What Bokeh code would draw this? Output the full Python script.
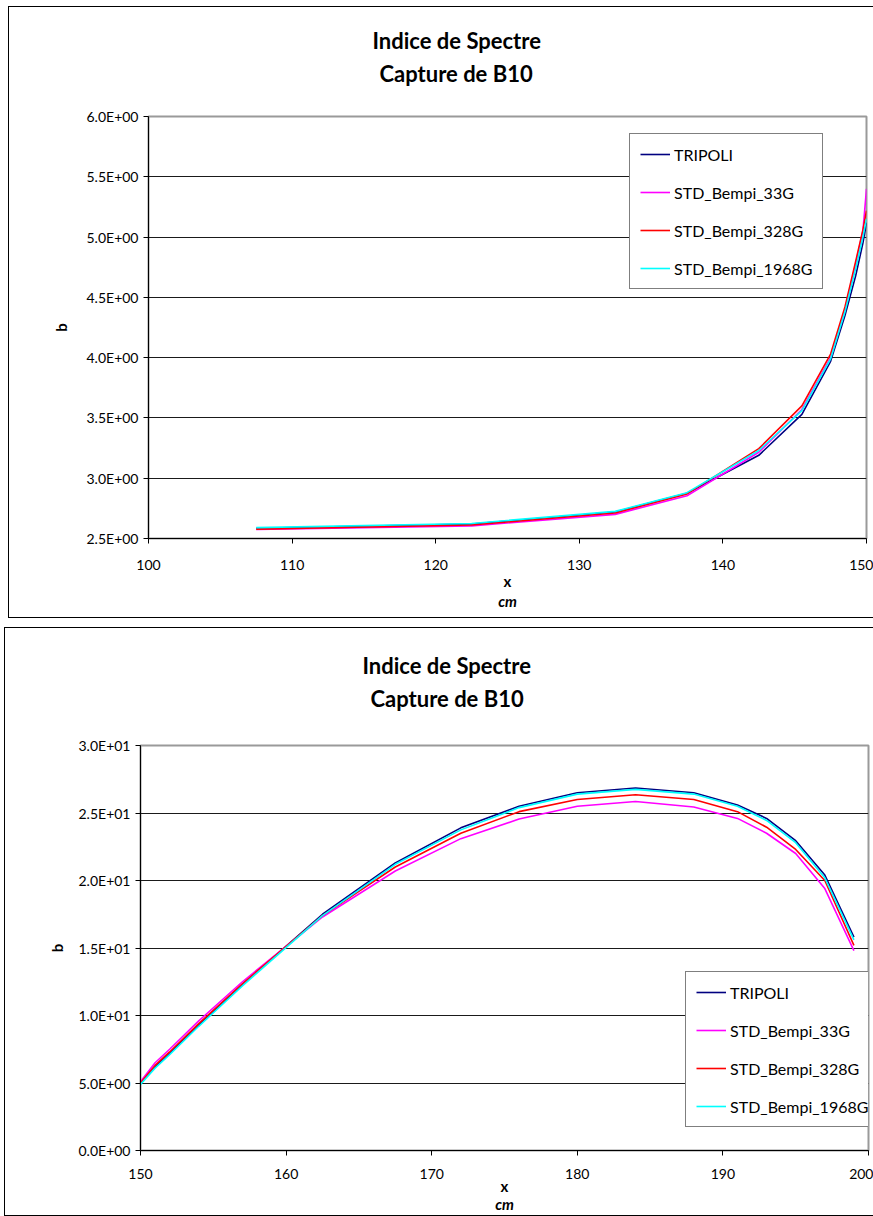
from bokeh.plotting import figure
from bokeh.models import Legend, LegendItem, Title, LinearAxis, FixedTicker, Range1d
from bokeh.layouts import column
from bokeh.embed import file_html
from bokeh.resources import INLINE

# ---------------- data ----------------
series_names = ["TRIPOLI", "STD_Bempi_33G", "STD_Bempi_328G", "STD_Bempi_1968G"]
series_colors = ["#000080", "#FF00FF", "#FF0000", "#00FFFF"]
title_lines = ["Indice de Spectre", "Capture de B10"]
x_label = "x"
x_unit = "cm"
y_label = "b"

# chart 1
c1_x = [107.5, 122.5, 132.5, 137.5, 142.5, 145.5, 147.5, 148.5, 149.25, 149.75, 150.0]
c1_tripoli = [2.585, 2.620, 2.720, 2.875, 3.190, 3.530, 3.970, 4.350, 4.680, 4.950, 5.120]
c1_33g = [2.575, 2.605, 2.700, 2.855, 3.215, 3.570, 4.000, 4.400, 4.780, 5.050, 5.400]
c1_328g = [2.578, 2.612, 2.712, 2.870, 3.245, 3.600, 4.030, 4.420, 4.800, 5.060, 5.220]
c1_1968g = [2.590, 2.625, 2.725, 2.880, 3.230, 3.560, 3.990, 4.380, 4.740, 5.000, 5.150]
c1_xticks = [100, 110, 120, 130, 140, 150]
c1_yticks = [2.5, 3.0, 3.5, 4.0, 4.5, 5.0, 5.5, 6.0]
c1_ytick_labels = ["2.5E+00", "3.0E+00", "3.5E+00", "4.0E+00", "4.5E+00", "5.0E+00", "5.5E+00", "6.0E+00"]

# chart 2
c2_x = [150, 151, 152, 154, 157, 162.5, 167.5, 172, 176, 180, 184, 188, 191, 193, 195, 197, 199]
c2_tripoli = [5.0, 6.2, 7.2, 9.3, 12.3, 17.5, 21.3, 23.9, 25.5, 26.5, 26.85, 26.5, 25.6, 24.6, 22.95, 20.4, 15.8]
c2_33g = [5.1, 6.5, 7.5, 9.6, 12.5, 17.3, 20.7, 23.1, 24.55, 25.5, 25.85, 25.45, 24.6, 23.5, 22.0, 19.4, 14.8]
c2_328g = [5.0, 6.3, 7.3, 9.4, 12.35, 17.4, 21.0, 23.5, 25.1, 26.0, 26.35, 26.0, 25.1, 23.95, 22.3, 20.0, 15.2]
c2_1968g = [4.9, 6.1, 7.1, 9.2, 12.2, 17.4, 21.2, 23.75, 25.4, 26.4, 26.75, 26.4, 25.5, 24.45, 22.8, 20.2, 15.6]
c2_xticks = [150, 160, 170, 180, 190, 200]
c2_yticks = [0, 5, 10, 15, 20, 25, 30]
c2_ytick_labels = ["0.0E+00", "5.0E+00", "1.0E+01", "1.5E+01", "2.0E+01", "2.5E+01", "3.0E+01"]

FONT = "Lato"


def make_chart(xs, ys_list, xticks, yticks, ytick_labels, width, height, margin,
               b_left, b_right, b_top, b_bottom, title_offsets, title_gap, legend_xy,
               ylab_standoff, xlab_standoff, unit_standoff, tick_standoff):
    p = figure(width=width, height=height, output_backend="svg", toolbar_location=None,
               x_range=Range1d(xticks[0], xticks[-1]), y_range=Range1d(yticks[0], yticks[-1]),
               min_border_left=b_left, min_border_right=b_right,
               min_border_top=b_top, min_border_bottom=b_bottom,
               background_fill_color="white", border_fill_color="white")
    p.frame_align = False
    p.margin = margin
    p.styles = {"outline": "1px solid black"}
    p.outline_line_color = "#9a9a9a"
    p.outline_line_width = 2

    p.xgrid.visible = False
    p.ygrid.grid_line_color = "#1a1a1a"
    p.ygrid.grid_line_width = 1
    p.ygrid.ticker = FixedTicker(ticks=yticks)

    xa = p.xaxis[0]
    xa.ticker = FixedTicker(ticks=xticks)
    ya = p.yaxis[0]
    ya.ticker = FixedTicker(ticks=yticks)
    ya.major_label_overrides = {t: l for t, l in zip(yticks, ytick_labels)}
    for ax in (xa, ya):
        ax.axis_line_color = "black"
        ax.axis_line_width = 1
        ax.major_tick_line_color = "black"
        ax.major_tick_out = 5
        ax.major_tick_in = 0
        ax.minor_tick_line_color = None
        ax.major_label_text_font = FONT
        ax.major_label_text_font_size = "14px"
        ax.major_label_text_color = "black"
        ax.axis_label_text_font = FONT
        ax.axis_label_text_font_size = "15px"
        ax.axis_label_text_font_style = "bold"
        ax.axis_label_text_color = "black"
    xa.major_label_standoff = tick_standoff
    xa.axis_label = x_label
    xa.axis_label_standoff = xlab_standoff
    ya.axis_label = y_label
    ya.axis_label_standoff = ylab_standoff
    ya.major_label_standoff = 5

    unit_axis = LinearAxis(ticker=FixedTicker(ticks=[]), axis_label=x_unit,
                           axis_line_color=None, major_tick_line_color=None,
                           minor_tick_line_color=None, major_tick_out=0, major_tick_in=0,
                           major_label_standoff=0, axis_label_standoff=unit_standoff,
                           axis_label_text_font=FONT, axis_label_text_font_size="15px",
                           axis_label_text_font_style="bold italic",
                           axis_label_text_color="black")
    p.add_layout(unit_axis, "below")

    items = []
    for name, color, ys in zip(series_names, series_colors, ys_list):
        r = p.line(xs, ys, line_color=color, line_width=1.6)
        items.append(LegendItem(label=name, renderers=[r]))

    legend = Legend(items=items, location=legend_xy,
                    border_line_color="black", border_line_width=1,
                    background_fill_color="white", background_fill_alpha=1.0,
                    label_text_font=FONT, label_text_font_size="16px",
                    label_text_color="black",
                    glyph_width=30, glyph_height=20, label_height=20,
                    spacing=18, padding=10, label_standoff=4, margin=0)
    p.add_layout(legend)

    # spacer between plot area and title (panel added first sits closest to the plot)
    p.add_layout(Title(text=" ", text_font_size="10px", standoff=title_gap,
                       vertical_align="middle"), "above")
    for line, off in reversed(list(zip(title_lines, title_offsets))):
        p.add_layout(Title(text=line, align="left", offset=off, vertical_align="middle",
                           standoff=4, text_font=FONT, text_font_size="22px",
                           text_font_style="bold", text_color="black"), "above")
    return p


p1 = make_chart(c1_x, [c1_tripoli, c1_33g, c1_328g, c1_1968g], c1_xticks, c1_yticks,
                c1_ytick_labels, 864, 610, (7, 0, 0, 9), 139, 7, 109, 79,
                (224, 231), 14, (481, 249), 14, -1, -1, 16)
p2 = make_chart(c2_x, [c2_tripoli, c2_33g, c2_328g, c2_1968g], c2_xticks, c2_yticks,
                c2_ytick_labels, 868, 587, (0, 0, 0, 5), 135, 5, 117, 65,
                (222, 230), 18, (545, 23), 10, -5, -3, 13)

layout = column(p1, p2, spacing=11)
open("out.html", "w").write(file_html(layout, INLINE))
